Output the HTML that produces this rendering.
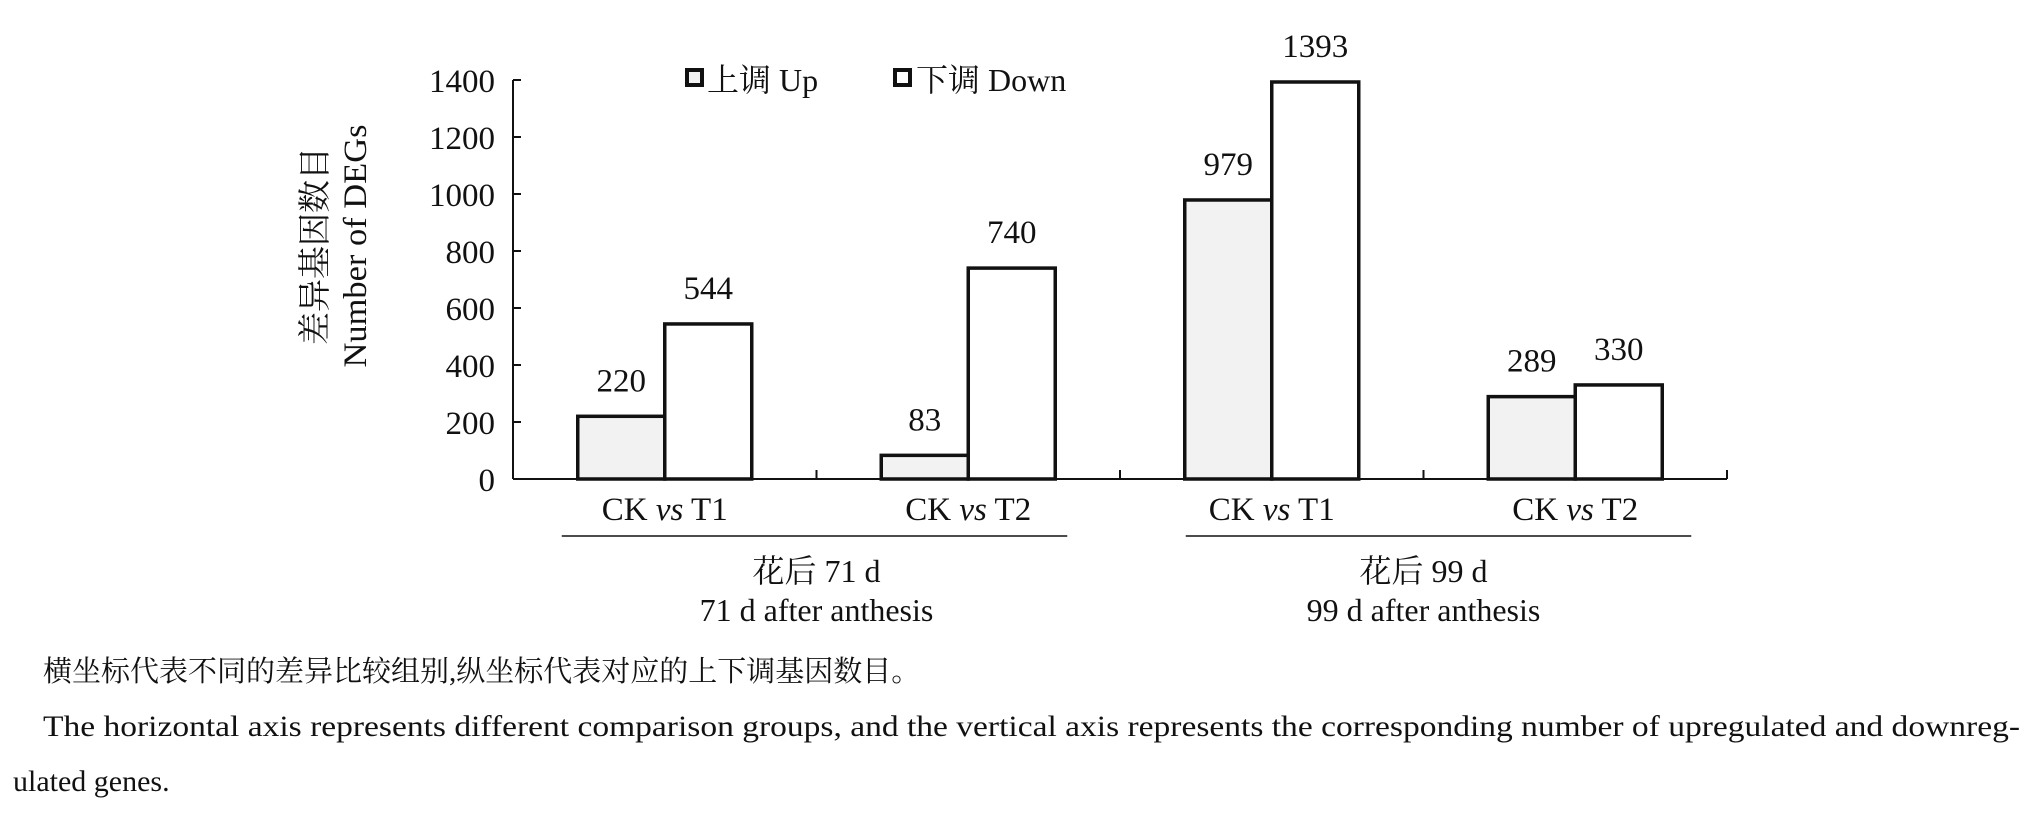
<!DOCTYPE html>
<html><head><meta charset="utf-8"><style>
body{margin:0;background:#fff}
svg text{font-family:"Liberation Serif","Noto Serif CJK SC","Noto Sans CJK SC",serif;fill:#111}
</style></head><body>
<svg id="chart" width="2031" height="812" viewBox="0 0 2031 812" xmlns="http://www.w3.org/2000/svg">
<g id="axes"></g>
<g id="bars"></g>
<g id="legend">
  <rect x="687" y="70" width="15" height="15" fill="#f2f2f2" stroke="#111" stroke-width="4"/>
  <text x="707" y="91" font-size="32">上调 Up</text>
  <rect x="895" y="70" width="15" height="15" fill="#fff" stroke="#111" stroke-width="4"/>
  <text x="916" y="91" font-size="32">下调 Down</text>
</g>
<g>
  <text transform="translate(326,246) rotate(-90)" text-anchor="middle" font-size="33">差异基因数目</text>
  <text transform="translate(366,246) rotate(-90)" text-anchor="middle" font-size="33" textLength="243" lengthAdjust="spacingAndGlyphs">Number of  DEGs</text>
</g>
<g>
  <text x="43" y="681" font-size="29">横坐标代表不同的差异比较组别,纵坐标代表对应的上下调基因数目。</text>
  <text x="43" y="736" font-size="30" textLength="1977" lengthAdjust="spacingAndGlyphs">The horizontal axis represents different comparison groups, and the vertical axis represents the corresponding number of upregulated and downreg-</text>
  <text x="13" y="791" font-size="30">ulated genes.</text>
</g>
</svg>
<script>
const categories = ["CK vs T1","CK vs T2","CK vs T1","CK vs T2"];
const upValues = [220, 83, 979, 289];
const downValues = [544, 740, 1393, 330];
const yTicks = [0,200,400,600,800,1000,1200,1400];
const groupLabels = [["花后 71 d","71 d after anthesis"],["花后 99 d","99 d after anthesis"]];

const NS="http://www.w3.org/2000/svg";
const X0=513, X1=1727, Y0=479, YTOP=80, YMAX=1400;
const catW=(X1-X0)/categories.length, barW=87;
const y=v=>Y0-(v/YMAX)*(Y0-YTOP);
const xc=i=>X0+catW*(i+0.5);
function mk(tag,attrs,parent){const e=document.createElementNS(NS,tag);for(const k in attrs)e.setAttribute(k,attrs[k]);parent.appendChild(e);return e;}
const axes=document.getElementById('axes'), bars=document.getElementById('bars');

let a=mk('line',{x1:X0,y1:YTOP,x2:X0,y2:Y0,stroke:'#111','stroke-width':2},axes);


yTicks.forEach(t=>{
  let l=mk('line',{x1:X0,y1:y(t),x2:X0+8,y2:y(t),stroke:'#111','stroke-width':2},axes);
  
  
  let tx=mk('text',{x:X0-18,y:y(t)+12,'text-anchor':'end','font-size':33},axes);
  tx.textContent=t;
  
  
});
a=mk('line',{x1:X0,y1:Y0,x2:X1,y2:Y0,stroke:'#111','stroke-width':2},axes);


for(let i=1;i<=categories.length;i++){
  let l=mk('line',{x1:X0+catW*i,y1:Y0,x2:X0+catW*i,y2:Y0-9,stroke:'#111','stroke-width':2},axes);
  
  
}
categories.forEach((c,i)=>{
  let tx=mk('text',{x:xc(i),y:520,'text-anchor':'middle','font-size':33},axes);
  const p=c.split(' ');
  tx.innerHTML=p[0]+' <tspan font-style="italic">'+p[1]+'</tspan> '+p[2];
  
  
});
groupLabels.forEach((g,j)=>{
  const off=j*17;
  const s=xc(2*j)-barW-16+off, e=xc(2*j+1)+barW+12+off, m=(xc(2*j)+xc(2*j+1))/2;
  let l=mk('line',{x1:s,y1:536,x2:e,y2:536,stroke:'#111','stroke-width':1.5},axes);
  
  
  let t1=mk('text',{x:m,y:582,'text-anchor':'middle','font-size':32},axes);t1.textContent=g[0];
  
  
  let t2=mk('text',{x:m,y:621,'text-anchor':'middle','font-size':32},axes);t2.textContent=g[1];
  
  
});
function bar(i,v,up){
  const x=up?xc(i)-barW:xc(i);
  let r=mk('rect',{x:x,y:y(v),width:barW,height:Y0-y(v),fill:up?'#f2f2f2':'#fff',stroke:'#111','stroke-width':3.5},bars);
  
  
  let t=mk('text',{x:x+barW/2,y:y(v)-25,'text-anchor':'middle','font-size':33},bars);
  t.textContent=v;
  
  
}
categories.forEach((c,i)=>{bar(i,upValues[i],true);bar(i,downValues[i],false);});
</script>
</body></html>
